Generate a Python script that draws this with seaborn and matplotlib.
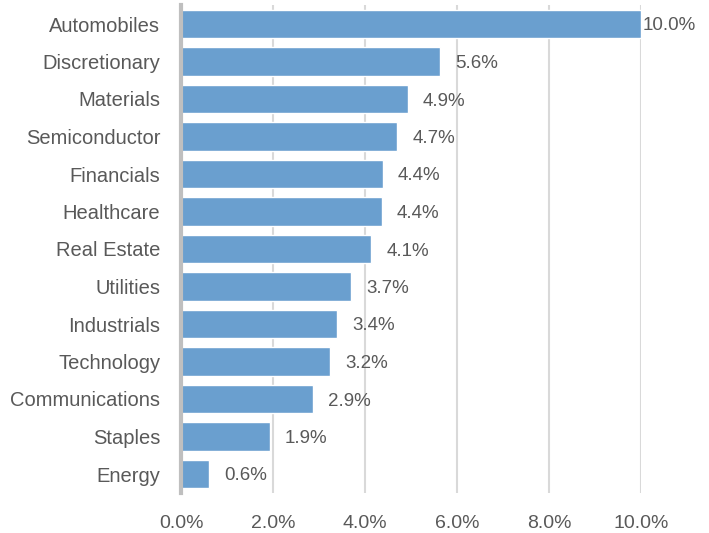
import matplotlib
matplotlib.use("Agg")
import matplotlib.pyplot as plt
import seaborn as sns
import pandas as pd
from matplotlib.ticker import FuncFormatter

categories = ["Automobiles", "Discretionary", "Materials", "Semiconductor", "Financials",
              "Healthcare", "Real Estate", "Utilities", "Industrials", "Technology",
              "Communications", "Staples", "Energy"]
values = [10.0, 5.63, 4.93, 4.7, 4.39, 4.37, 4.14, 3.7, 3.39, 3.24, 2.87, 1.93, 0.61]
tick_values = [0, 2, 4, 6, 8, 10]

df = pd.DataFrame({"category": categories, "value": values})

sns.set_style("white")
plt.rcParams["font.family"] = ["Liberation Sans", "DejaVu Sans"]
text_color = "#595959"

fig = plt.figure(figsize=(7.09, 5.33), dpi=100)
ax = fig.add_axes([181 / 709, 1 - 492.75 / 533, 460 / 709, 487.5 / 533])

sns.barplot(data=df, x="value", y="category", orient="h", color="#6a9fcf",
            saturation=1, width=0.75, ax=ax, zorder=2)

ax.set_xlim(0, 10)
ax.set_xticks(tick_values)
ax.xaxis.set_major_formatter(FuncFormatter(lambda v, p: f"{v:.1f}%"))
ax.grid(axis="x", color="#d9d9d9", linewidth=1.5, zorder=0)
ax.grid(axis="y", visible=False)
ax.set_axisbelow(True)
for s in ["top", "right", "bottom"]:
    ax.spines[s].set_visible(False)
ax.spines["left"].set_color("#bfbfbf")
ax.spines["left"].set_linewidth(3)
ax.spines["left"].set_zorder(3)
ax.set_xlabel("")
ax.set_ylabel("")
ax.tick_params(axis="both", length=0, colors=text_color)
ax.tick_params(axis="x", pad=16, labelsize=14)
ax.tick_params(axis="y", pad=15, labelsize=14.5)

for i, v in enumerate(values):
    off = 2 if v >= 9.5 else 15
    ax.annotate(f"{v:.1f}%", xy=(v, i), xytext=(off, 0), textcoords="offset pixels",
                va="center_baseline", ha="left", fontsize=13.5, color=text_color)

fig.savefig("out.png", dpi=100)
